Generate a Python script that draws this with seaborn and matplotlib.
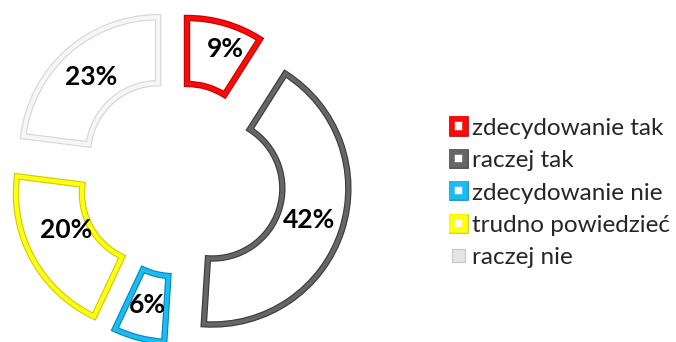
import matplotlib
matplotlib.use("Agg")
import matplotlib.pyplot as plt
import matplotlib.patheffects as pe
from matplotlib.patches import Rectangle
import seaborn as sns

# Survey answers and their shares (%)
categories = ["zdecydowanie tak", "raczej tak", "zdecydowanie nie",
              "trudno powiedzieć", "raczej nie"]
shares = [9, 42, 6, 20, 23]

# Rim colours: bright face and darker bevel edge per answer
rim_colors = ["#ff0a0a", "#666666", "#1cbcf2", "#ffff10", "#f6f6f6"]
edge_colors = ["#c00000", "#3a3a3a", "#0088bb", "#cccc00", "#d6d6d6"]

sns.set_theme(style="white")
plt.rcParams["font.family"] = ["Lato", "DejaVu Sans"]

fig = plt.figure(figsize=(6.76, 3.42), dpi=100)
ax = fig.add_axes([0, 0, 1, 1])

# axes data units are pixels
center = (180, 164)
radius = 136
ring = 66
explode = [25, 34, 29, 32, 33]
label_nudge = [(10, 7), (0, 0), (0, 0), (4, 13), (0, 0)]

shadow = [pe.SimplePatchShadow(offset=(1.6, -1.6), shadow_rgbFace="0.45", alpha=0.35),
          pe.Normal()]

wedges, _, autotexts = ax.pie(
    shares, explode=explode, center=center, radius=radius,
    startangle=90, counterclock=False, autopct="%.0f%%", pctdistance=0.75,
    wedgeprops=dict(width=ring, facecolor="white", linewidth=4.6,
                    joinstyle="miter"),
    textprops=dict(fontsize=19, fontweight="bold", color="black"),
)
for w, ec in zip(wedges, edge_colors):
    w.set_edgecolor(ec)
    w.set_path_effects(shadow)

# lighter inner stroke gives the bevelled rim
rims, _ = ax.pie(
    shares, explode=explode, center=center, radius=radius,
    startangle=90, counterclock=False,
    wedgeprops=dict(width=ring, fill=False, linewidth=3.0, joinstyle="miter"),
)
for w, rc in zip(rims, rim_colors):
    w.set_edgecolor(rc)

for t, (dx, dy) in zip(autotexts, label_nudge):
    x, y = t.get_position()
    t.set_position((x + dx, y + dy))
    t.set_zorder(5)

ax.set_xlim(0, 676)
ax.set_ylim(0, 342)
ax.set_axis_off()

handles = []
for i, (rc, ec) in enumerate(zip(rim_colors, edge_colors)):
    if i == len(categories) - 1:
        handles.append(Rectangle((0, 0), 1, 1, facecolor="#e4e4e4",
                                 edgecolor="#c4c4c4", linewidth=0.8))
    else:
        h = Rectangle((0, 0), 1, 1, facecolor="white", edgecolor=rc, linewidth=4.0)
        h.set_path_effects([pe.Stroke(linewidth=4.8, foreground=ec), pe.Normal()])
        handles.append(h)

ax.legend(handles, categories, loc="center left",
          bbox_to_anchor=(452 / 676, 149 / 342), frameon=False,
          fontsize=17.5, handlelength=0.55, handleheight=0.45,
          handletextpad=0.28, labelspacing=0.47, borderpad=0, borderaxespad=0)

fig.savefig("out.png", dpi=100, facecolor="white")
